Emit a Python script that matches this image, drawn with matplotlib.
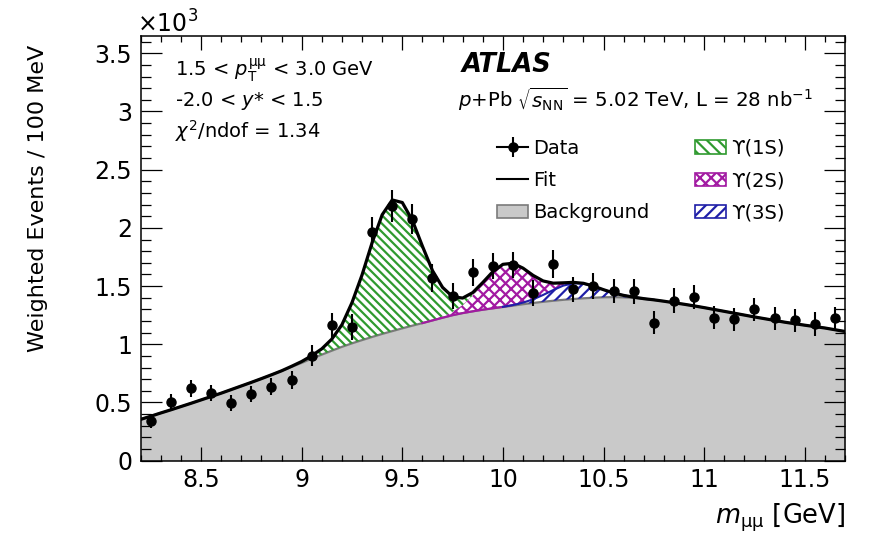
import numpy as np
import matplotlib
matplotlib.use("Agg")
import matplotlib.pyplot as plt
from matplotlib.lines import Line2D
from matplotlib.patches import Patch
from matplotlib.legend_handler import HandlerTuple
from matplotlib.ticker import MultipleLocator, FuncFormatter

plt.rcParams['font.family'] = ['DejaVu Sans']
plt.rcParams['mathtext.fontset'] = 'dejavusans'
plt.rcParams['hatch.linewidth'] = 1.6

# ---- data (in units of 10^3 weighted events per 100 MeV) ----
mass_bins = [8.25, 8.35, 8.45, 8.55, 8.65, 8.75, 8.85, 8.95, 9.05, 9.15,
             9.25, 9.35, 9.45, 9.55, 9.65, 9.75, 9.85, 9.95, 10.05, 10.15,
             10.25, 10.35, 10.45, 10.55, 10.65, 10.75, 10.85, 10.95, 11.05, 11.15,
             11.25, 11.35, 11.45, 11.55, 11.65]
events = [0.344, 0.507, 0.622, 0.579, 0.493, 0.573, 0.636, 0.693, 0.900, 1.163,
          1.146, 1.967, 2.188, 2.076, 1.567, 1.415, 1.618, 1.673, 1.681, 1.443,
          1.690, 1.472, 1.503, 1.460, 1.455, 1.186, 1.375, 1.404, 1.229, 1.215,
          1.301, 1.223, 1.206, 1.174, 1.223]
errors = [0.060, 0.070, 0.075, 0.070, 0.070, 0.070, 0.075, 0.080, 0.090, 0.110,
          0.110, 0.130, 0.135, 0.130, 0.120, 0.110, 0.115, 0.115, 0.115, 0.110,
          0.120, 0.110, 0.110, 0.105, 0.110, 0.100, 0.105, 0.105, 0.100, 0.100,
          0.100, 0.100, 0.100, 0.100, 0.100]

# fit model, sampled along the mass axis
fit_mass = [8.20, 8.25, 8.30, 8.35, 8.40, 8.45, 8.50, 8.55, 8.60, 8.65,
            8.70, 8.75, 8.80, 8.85, 8.90, 8.95, 9.00, 9.05, 9.10, 9.15,
            9.20, 9.25, 9.30, 9.35, 9.40, 9.45, 9.50, 9.55, 9.60, 9.65,
            9.70, 9.75, 9.80, 9.85, 9.90, 9.95, 10.00, 10.05, 10.10, 10.15,
            10.20, 10.25, 10.30, 10.35, 10.40, 10.45, 10.50, 10.55, 10.60, 10.65,
            10.70, 10.75, 10.80, 10.85, 10.90, 10.95, 11.00, 11.05, 11.10, 11.15,
            11.20, 11.25, 11.30, 11.35, 11.40, 11.45, 11.50, 11.55, 11.60, 11.65,
            11.70]
background = [0.355, 0.382, 0.410, 0.437, 0.465, 0.493, 0.522, 0.551, 0.580, 0.611,
              0.642, 0.673, 0.705, 0.738, 0.772, 0.806, 0.840, 0.877, 0.911, 0.945,
              0.978, 1.008, 1.036, 1.063, 1.089, 1.113, 1.137, 1.160, 1.182, 1.205,
              1.228, 1.250, 1.268, 1.283, 1.297, 1.309, 1.320, 1.332, 1.344, 1.355,
              1.365, 1.374, 1.382, 1.389, 1.395, 1.400, 1.404, 1.405, 1.403, 1.398,
              1.390, 1.381, 1.370, 1.357, 1.344, 1.330, 1.315, 1.299, 1.283, 1.267,
              1.251, 1.235, 1.220, 1.205, 1.190, 1.177, 1.164, 1.152, 1.140, 1.125,
              1.110]

# signal components on the peak window 8.95 - 10.75 GeV
peak_start = 8.95
ups1s = [0.005, 0.012, 0.025, 0.050, 0.100, 0.190, 0.350, 0.560, 0.810, 1.024,
         1.127, 1.081, 0.905, 0.660, 0.425, 0.250, 0.130, 0.060, 0.025, 0.010,
         0.003, 0, 0, 0, 0, 0, 0, 0, 0, 0,
         0, 0, 0, 0, 0, 0, 0]
ups2s = [0, 0, 0, 0, 0, 0, 0, 0, 0, 0,
         0, 0, 0, 0.001, 0.003, 0.011, 0.029, 0.069, 0.136, 0.224,
         0.312, 0.365, 0.359, 0.296, 0.206, 0.120, 0.059, 0.024, 0.008, 0.003,
         0.001, 0, 0, 0, 0, 0, 0]
ups3s = [0, 0, 0, 0, 0, 0, 0, 0, 0, 0,
         0, 0, 0, 0, 0, 0, 0, 0, 0, 0,
         0, 0.002, 0.005, 0.014, 0.031, 0.059, 0.092, 0.122, 0.135, 0.126,
         0.099, 0.065, 0.036, 0.017, 0.007, 0.002, 0.001]

GREEN = '#2f9a2f'
MAGENTA = '#a21aa2'
BLUE = '#1f1fa8'
GRAY = '#c9c9c9'
GRAY_EDGE = '#7a7a7a'

fm = np.array(fit_mass)
bkg = np.array(background)
lo = int(np.argmin(np.abs(fm - peak_start)))
hi = lo + len(ups1s)
xw = fm[lo:hi]
c3 = bkg[lo:hi] + np.array(ups3s)
c2 = c3 + np.array(ups2s)
c1 = c2 + np.array(ups1s)
total = bkg.copy()
total[lo:hi] = c1

fig = plt.figure(figsize=(8.69, 5.34), dpi=100)
ax = fig.add_axes([0.1619, 0.1373, 0.9724 - 0.1619, 0.9331 - 0.1373])

ax.fill_between(fm, 0, bkg, color=GRAY, lw=0, zorder=1)
ax.plot(fm, bkg, color=GRAY_EDGE, lw=1.6, zorder=2)
ax.fill_between(xw, bkg[lo:hi], c3, facecolor='none', edgecolor=BLUE, hatch='///', lw=0, zorder=2)
ax.fill_between(xw, c3, c2, facecolor='none', edgecolor=MAGENTA, hatch='xxx', lw=0, zorder=2)
ax.fill_between(xw, c2, c1, facecolor='none', edgecolor=GREEN, hatch='\\\\\\\\', lw=0, zorder=2)
sel2 = (xw >= 9.6) & (xw <= 10.05)
ax.plot(xw[sel2], c3[sel2], color=MAGENTA, lw=1.5, zorder=3)
sel3 = xw >= 10.0
ax.plot(xw[sel3], c3[sel3], color=BLUE, lw=1.5, zorder=3)
ax.plot(fm, total, color='black', lw=2.3, zorder=4)
ax.errorbar(mass_bins, events, yerr=errors, fmt='o', color='black', ms=6.5,
            elinewidth=1.5, capsize=0, zorder=5)

ax.set_xlim(8.2, 11.7)
ax.set_ylim(0, 3.651)
ax.xaxis.set_major_locator(MultipleLocator(0.5))
ax.xaxis.set_minor_locator(MultipleLocator(0.1))
ax.yaxis.set_major_locator(MultipleLocator(0.5))
ax.yaxis.set_minor_locator(MultipleLocator(0.1))
fmt = FuncFormatter(lambda v, p: '%g' % round(v, 2))
ax.xaxis.set_major_formatter(fmt)
ax.yaxis.set_major_formatter(fmt)
ax.tick_params(axis='both', which='both', direction='in', top=True, right=True,
               labelsize=17, width=0.9)
ax.tick_params(axis='x', which='major', length=10, pad=5)
ax.tick_params(axis='x', which='minor', length=4.5)
ax.tick_params(axis='y', which='major', length=15, pad=6)
ax.tick_params(axis='y', which='minor', length=7.5)
for s in ax.spines.values():
    s.set_linewidth(1.1)

# axis titles, ROOT style
fig.text(38 / 869, 1 - 45 / 534, 'Weighted Events / 100 MeV', rotation=90,
         ha='center', va='top', fontsize=16)
fig.text(845 / 869, 1 - 518 / 534, r'$m_{\mathrm{μμ}}$ [GeV]', ha='right', va='center', fontsize=18.5)
fig.text(137 / 869, 1 - 33 / 534, r'$\times$10$^{3}$', ha='left', va='baseline', fontsize=17)

# annotations
fig.text(175 / 869, 1 - 76 / 534, r'1.5 < $p_{\rm T}^{\mathrm{μμ}}$ < 3.0 GeV', fontsize=14, va='baseline')
fig.text(175 / 869, 1 - 106 / 534, r'-2.0 < $y$* < 1.5', fontsize=14, va='baseline')
fig.text(175 / 869, 1 - 138 / 534, r'$\chi^{2}$/ndof = 1.34', fontsize=14, va='baseline')
fig.text(462 / 869, 1 - 72 / 534, 'ATLAS', fontsize=18.5, fontweight='bold', fontstyle='italic',
         va='baseline')
fig.text(458 / 869, 1 - 107 / 534, r'$p$+Pb $\sqrt{s_{\rm NN}}$ = 5.02 TeV, L = 28 nb$^{-1}$',
         fontsize=14.2, va='baseline')

# legends
data_h = (Line2D([], [], color='black', lw=1.5, marker='o', ms=6.5),
          Line2D([], [], color='black', ls='none', marker='|', ms=15, mew=1.5))
fit_h = Line2D([], [], color='black', lw=1.5)
bkg_h = Patch(facecolor=GRAY, edgecolor=GRAY_EDGE, lw=1.2)
leg_kw = dict(loc='upper left', frameon=False, fontsize=14, handlelength=1.6,
              handletextpad=0.25, labelspacing=0.68, borderpad=0, borderaxespad=0)
leg1 = fig.legend([data_h, fit_h, bkg_h], ['Data', 'Fit', 'Background'],
                  bbox_to_anchor=(497 / 869, 1 - 139 / 534),
                  handler_map={tuple: HandlerTuple(ndivide=1)}, **leg_kw)
sig_h = [Patch(facecolor='white', edgecolor=GREEN, hatch='\\\\\\', lw=1.2),
         Patch(facecolor='white', edgecolor=MAGENTA, hatch='xxx', lw=1.2),
         Patch(facecolor='white', edgecolor=BLUE, hatch='///', lw=1.2)]
leg2 = fig.legend(sig_h, ['ϒ(1S)', 'ϒ(2S)', 'ϒ(3S)'],
                  bbox_to_anchor=(695 / 869, 1 - 139 / 534), **leg_kw)

fig.savefig('out.png', dpi=100)
